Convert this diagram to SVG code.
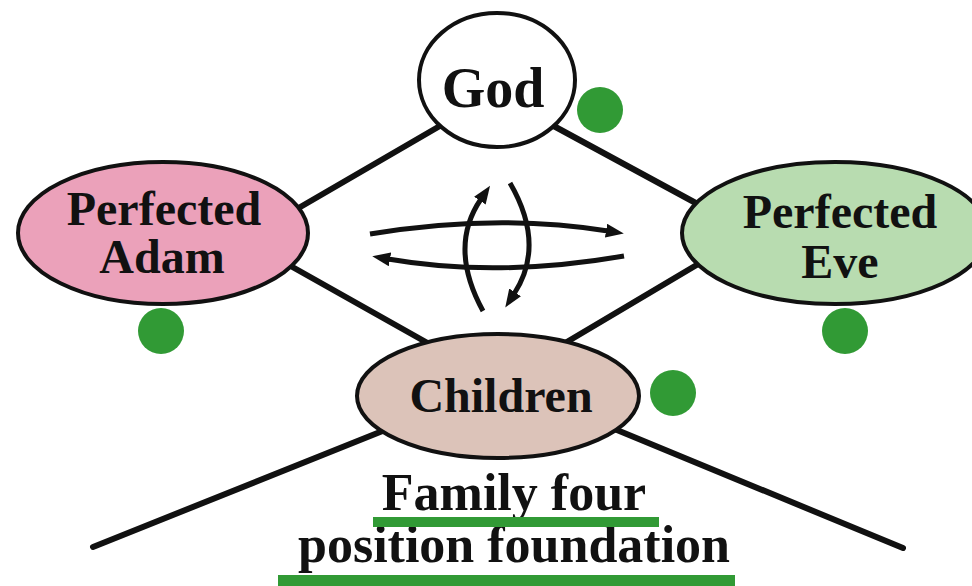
<svg xmlns="http://www.w3.org/2000/svg" width="972" height="586" viewBox="0 0 972 586">
  <style>
    .edge { stroke: #111; stroke-width: 6; fill: none; stroke-linecap: round; }
    .flow { stroke: #111; stroke-width: 5; fill: none; }
    .node { stroke: #111; stroke-width: 4; }
    .lbl { font-family: "Liberation Serif", "Times New Roman", serif; font-weight: bold; fill: #111; text-anchor: middle; }
    .dot { fill: #319a35; }
    .bar { fill: #319a35; }
  </style>
  <defs>
    <marker id="head" viewBox="0 0 18 14" markerWidth="18" markerHeight="14" refX="2" refY="7" orient="auto" markerUnits="userSpaceOnUse">
      <path d="M0,0 L18,7 L0,14 z" fill="#111"/>
    </marker>
  </defs>
  <rect width="972" height="586" fill="#fff"/>

  <!-- connecting lines of the four-position diagram -->
  <g id="connectors">
    <line class="edge" x1="445" y1="123" x2="290" y2="213"/>
    <line class="edge" x1="550" y1="124" x2="705" y2="208"/>
    <line class="edge" x1="280" y1="260" x2="440" y2="350"/>
    <line class="edge" x1="705" y1="260" x2="555" y2="349"/>
    <line class="edge" x1="400" y1="424" x2="93" y2="547"/>
    <line class="edge" x1="600" y1="423" x2="903" y2="548"/>
    <!-- give-and-take arrows in the centre -->
    <path class="flow" d="M370,234 Q497,213 608,231" marker-end="url(#head)"/>
    <path class="flow" d="M624,256 Q497,278 388,259" marker-end="url(#head)"/>
    <path class="flow" d="M483,311 Q448,247 481,199" marker-end="url(#head)"/>
    <path class="flow" d="M510,183 Q546,245 514,294" marker-end="url(#head)"/>
  </g>

  <g id="god">
    <ellipse class="node" cx="497" cy="80" rx="78" ry="67" fill="#fff"/>
    <text class="lbl" x="493" y="107" font-size="56">God</text>
  </g>

  <g id="adam">
    <ellipse class="node" cx="163" cy="233" rx="145" ry="71" fill="#eba1ba"/>
    <text class="lbl" x="164" y="225" font-size="48">Perfected</text>
    <text class="lbl" x="162" y="273" font-size="48">Adam</text>
  </g>

  <g id="eve">
    <ellipse class="node" cx="835" cy="233" rx="153" ry="71" fill="#b8dcb0"/>
    <text class="lbl" x="840" y="228" font-size="48">Perfected</text>
    <text class="lbl" x="840" y="278" font-size="48">Eve</text>
  </g>

  <g id="children">
    <ellipse class="node" cx="498" cy="396" rx="141" ry="62" fill="#dcc3b9"/>
    <text class="lbl" x="501" y="412" font-size="48">Children</text>
  </g>

  <g id="markers">
    <circle class="dot" cx="600" cy="110" r="23"/>
    <circle class="dot" cx="161" cy="331" r="23"/>
    <circle class="dot" cx="845" cy="331" r="23"/>
    <circle class="dot" cx="673" cy="393" r="23"/>
  </g>

  <g id="caption">
    <text class="lbl" x="514" y="510" font-size="52">Family four</text>
    <text class="lbl" x="514" y="562" font-size="52">position foundation</text>
    <rect class="bar" x="373" y="517" width="286" height="10"/>
    <rect class="bar" x="278" y="575" width="457" height="11"/>
  </g>
</svg>
